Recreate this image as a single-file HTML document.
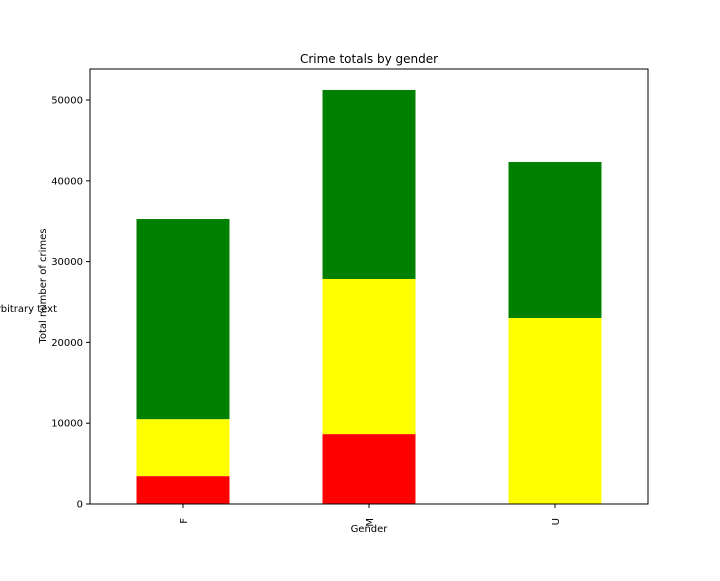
<!DOCTYPE html>
<html><head><meta charset="utf-8"><style>
body{margin:0;background:#fff;width:720px;height:576px;overflow:hidden}
svg{font-family:"DejaVu Sans","Liberation Sans",sans-serif}
</style></head><body>
<svg id="c" width="720" height="576">
<text x="369" y="63" font-size="12" text-anchor="middle">Crime totals by gender</text>
<text x="57" y="312" font-size="10" text-anchor="end">Arbitrary text</text>
<text transform="translate(46,286) rotate(-90)" font-size="10" text-anchor="middle">Total number of crimes</text>
<text x="369" y="532" font-size="10" text-anchor="middle">Gender</text>
<g id="bars"></g><g id="ticks"></g>
<rect x="90" y="69" width="558" height="435" fill="none" stroke="#000" stroke-width="1"/>
</svg>
<script>
const categories=["F","M","U"];
const redVals=[3450,8650,0];
const yellowVals=[7050,19200,23020];
const greenVals=[24770,23390,19310];
const yTicks=[0,10000,20000,30000,40000,50000];
const colors=["#ff0000","#ffff00","#008000"];
const L=90,R=648,B=504,T=69;
const y=v=>B-v*(B-100)/50000;
const band=(R-L)/categories.length;
const xc=i=>L+band*(i+0.5);
const ns="http://www.w3.org/2000/svg";
const bars=document.getElementById('bars'),ticks=document.getElementById('ticks');
function mk(tag,attrs,parent){const e=document.createElementNS(ns,tag);for(const k in attrs)e.setAttribute(k,attrs[k]);parent.appendChild(e);return e;}
const series=[redVals,yellowVals,greenVals];
categories.forEach((c,i)=>{
  let base=0;
  series.forEach((s,j)=>{
    const v=s[i];
    const r=mk('rect',{x:xc(i)-band*0.25,y:y(base+v),width:band*0.5,height:y(base)-y(base+v),fill:colors[j]},bars);
    
    
    base+=v;
  });
  const tl=mk('line',{x1:xc(i),x2:xc(i),y1:B,y2:B+4,stroke:'#000'},ticks);
  
  
  const t=mk('text',{transform:`translate(${xc(i)+4},${B+14}) rotate(-90)`,'font-size':10,'text-anchor':'end'},ticks);
  t.textContent=c;
  
  
});
yTicks.forEach(v=>{
  const l=mk('line',{x1:L-4,x2:L,y1:y(v),y2:y(v),stroke:'#000'},ticks);
  
  
  const t=mk('text',{x:L-7,y:y(v)+3.5,'font-size':10,'text-anchor':'end'},ticks);
  t.textContent=v;
  
  
});
</script>
</body></html>
